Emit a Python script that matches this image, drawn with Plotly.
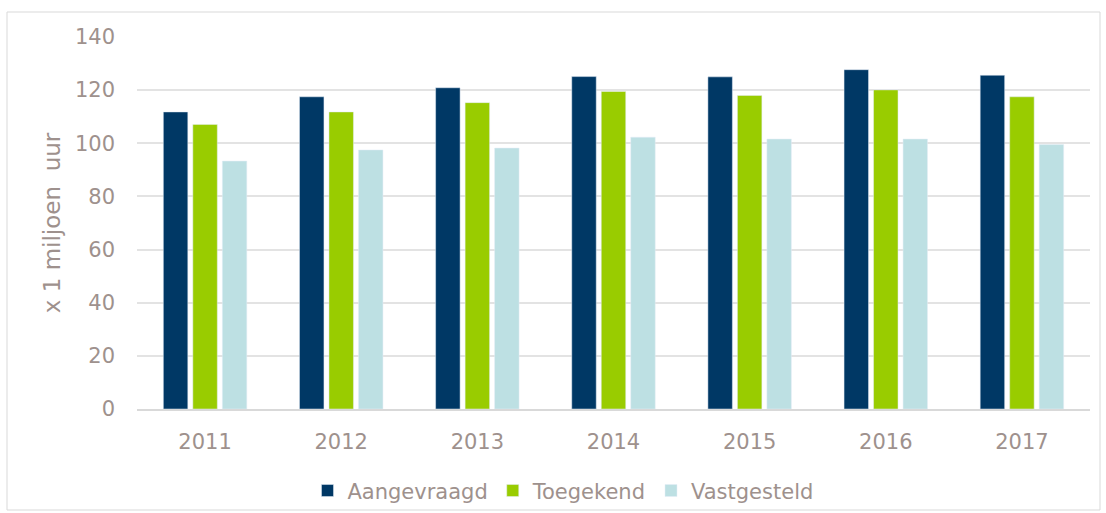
import plotly.graph_objects as go

years = ["2011", "2012", "2013", "2014", "2015", "2016", "2017"]
aangevraagd = [111.8, 117.5, 120.9, 125.1, 125.0, 127.7, 125.6]
toegekend = [107.1, 111.8, 115.3, 119.5, 118.0, 120.1, 117.5]
vastgesteld = [93.3, 97.5, 98.2, 102.3, 101.6, 101.6, 99.5]
y_ticks = [0, 20, 40, 60, 80, 100, 120, 140]

txt = "#9e918d"
font_family = "DejaVu Sans"

fig = go.Figure()
fig.add_trace(go.Bar(name="Aangevraagd", x=years, y=aangevraagd, marker_color="#003865"))
fig.add_trace(go.Bar(name="Toegekend", x=years, y=toegekend, marker_color="#99cc00"))
fig.add_trace(go.Bar(name="Vastgesteld", x=years, y=vastgesteld, marker_color="#bde0e3"))

L, R, T, B = 137, 16, 37, 104
W, H = 1106, 513
pw, ph = W - L - R, H - T - B

fig.update_layout(
    width=W, height=H,
    margin=dict(l=L, r=R, t=T, b=B, autoexpand=False),
    paper_bgcolor="white", plot_bgcolor="white",
    barmode="group", bargap=0.35, bargroupgap=0.17,
    font=dict(family=font_family, color=txt, size=21),
    legend=dict(orientation="h", x=0.447, xanchor="center", y=-0.165, yanchor="top",
                font=dict(size=21, color=txt), itemwidth=30, traceorder="normal",
                bgcolor="rgba(0,0,0,0)"),
    xaxis=dict(showgrid=False, showline=True, linecolor="#d9d9d9", linewidth=1.5,
               tickfont=dict(size=21, color=txt), ticks="", automargin=False,
               ticklabelstandoff=13),
    yaxis=dict(range=[0, 140], tickvals=y_ticks, showgrid=True, gridcolor="#e3e3e3",
               gridwidth=1.5, zeroline=False, ticks="", ticklabelstandoff=21,
               automargin=False,
               tickfont=dict(size=21, color=txt),
               title=dict(text="x 1 miljoen\u00a0 uur", font=dict(size=23, color=txt), standoff=7)),
    shapes=[dict(type="rect", xref="paper", yref="paper",
                 x0=(7 - L) / pw, x1=(1100 - L) / pw,
                 y0=(H - B - 510) / ph, y1=(H - B - 12) / ph,
                 line=dict(color="#d9d9d9", width=1), fillcolor="rgba(0,0,0,0)", layer="below")],
)

fig.write_html("out.html", config={"displayModeBar": False},
               post_script="document.body.style.margin='0';document.body.style.overflow='hidden';")
